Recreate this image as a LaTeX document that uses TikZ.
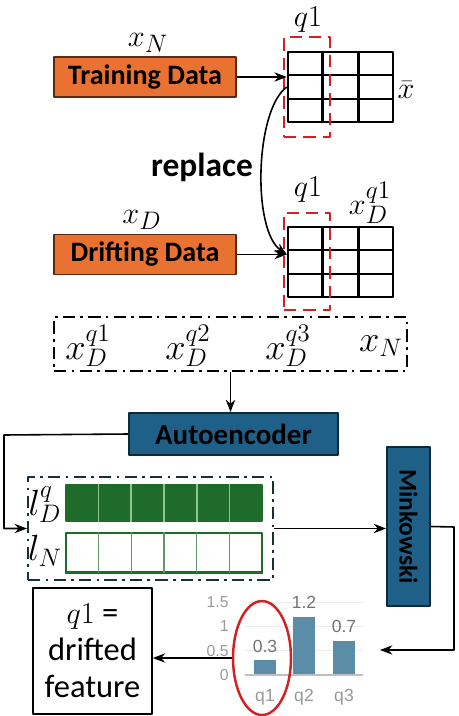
\documentclass[tikz,border=0pt]{standalone}
\usepackage{fontspec}
\setmainfont{Carlito}
\newfontfamily\chartfont{Liberation Sans}
\usepackage{tikz}
\usetikzlibrary{arrows.meta}
\usetikzlibrary{calc}
\usetikzlibrary{shapes.geometric}
\usetikzlibrary{positioning}
\definecolor{dataorange}{HTML}{E97132}
\definecolor{databorder}{HTML}{5A2A10}
\definecolor{blockblue}{HTML}{1E6088}
\definecolor{blockborder}{HTML}{0E2A3A}
\definecolor{latgreen}{HTML}{1E6B2A}
\definecolor{latline}{HTML}{8BC88F}
\definecolor{barblue}{HTML}{5B8DA8}
\definecolor{selred}{HTML}{D42020}
\definecolor{groupdark}{HTML}{17303A}

\begin{document}
\begin{tikzpicture}[
			% one unit = one pixel of the reference
			x=0.02cm, y=-0.02cm,
			line join=round, >=Stealth,
			databox/.style={draw=databorder, fill=dataorange, line width=0.8pt,
					minimum width=3.64cm, minimum height=0.8cm, inner sep=0pt,
					font=\fontsize{16}{19}\selectfont\bfseries},
			blockbox/.style={draw=blockborder, fill=blockblue, line width=1pt, inner sep=0pt,
					font=\fontsize{16.5}{19}\selectfont\bfseries},
			datagrid/.style={draw, line width=1.4pt, minimum width=2.1cm, minimum height=1.4cm, inner sep=0pt},
			qsel/.style={draw=selred, dashed, dash pattern=on 7pt off 4pt, line width=1.4pt,
					minimum width=0.92cm, inner sep=0pt},
			groupbox/.style={draw, line width=1.2pt, dash pattern=on 7pt off 3pt on 1.5pt off 3pt, inner sep=0pt},
			mlabel/.style={inner sep=0pt, font=\fontsize{19}{22}\selectfont},
			chartlabel/.style={inner sep=0pt, text=gray!80, font=\chartfont\fontsize{9}{11}\selectfont},
			conn/.style={->, line width=0.9pt}
		]

		\useasboundingbox (0,0) rectangle (458,716);

		%-------------------
		% Input data
		%-------------------
		\node[databox] (td) at (145,77) {Training Data};
		\node[databox] (dd) at (145,254.5) {Drifting Data};
		\node[mlabel] (xn) at (148,43) {$x_N$};
		\node[mlabel] (xd) at (142,220) {$x_D$};

		%-------------------
		% Data grids
		%-------------------
		\node[datagrid] (g1) at (340.5,87) {};
		\node[datagrid] (g2) at (340.5,262) {};
		\foreach \g in {g1,g2} {
				\foreach \i in {1,2} {
						\draw[line width=1.4pt] ($(\g.north west)!\i/3!(\g.north east)$) -- ($(\g.south west)!\i/3!(\g.south east)$);
						\draw[line width=1.4pt] ($(\g.north west)!\i/3!(\g.south west)$) -- ($(\g.north east)!\i/3!(\g.south east)$);
					}
			}
		\node[qsel, minimum height=2cm] (s1) at (307,87) {};
		\node[qsel, minimum height=1.94cm] (s2) at (307,261.5) {};
		\node[mlabel] (q1a) at (308,20) {$q1$};
		\node[mlabel] (q1b) at (308,190) {$q1$};
		\node[mlabel] (xbar) at (406,90) {$\bar{x}$};
		\node[mlabel] (xdq) at (370,203) {$x_D^{q1}$};

		\draw[conn] (td.east) -- (td.east -| g1.west);
		\draw[conn] (dd.east) -- (dd.east -| g2.west);
		\draw[conn] (g1.west) .. controls (255,110) and (252,230) .. (dd.east -| g2.west);
		\node[inner sep=0pt, font=\fontsize{19}{22}\selectfont\bfseries] (rep) at (202,167) {replace};

		%-------------------
		% Combined input
		%-------------------
		\node[groupbox, minimum width=7.06cm, minimum height=1.08cm] (grp) at (230.5,344) {};
		\foreach \n/\x/\t in {c1/88/{x_D^{q1}}, c2/188/{x_D^{q2}}, c3/288/{x_D^{q3}}, c4/381/{x_N}} {
				\node[mlabel, font=\fontsize{20.5}{23}\selectfont] (\n) at (\x,346) {$\t$};
			}

		%-------------------
		% Autoencoder and latent space
		%-------------------
		\node[blockbox, minimum width=4.18cm, minimum height=0.84cm] (ae) at (233.5,434) {Autoencoder};
		\draw[conn] (grp.south) -- (grp.south |- ae.north);

		\node[groupbox, draw=groupdark, minimum width=4.9cm, minimum height=2.06cm] (lat) at (150.5,528.5) {};
		\coordinate (bend) at (4,435);
		\draw[conn] (ae.west) -- (bend) |- (lat.west);

		\node[draw=latgreen, fill=latgreen, line width=0.6pt, minimum width=3.92cm, minimum height=0.72cm, inner sep=0pt] (ld) at (164,503) {};
		\node[draw=latgreen, line width=0.6pt, minimum width=3.92cm, minimum height=0.78cm, inner sep=0pt] (ln) at (164,552.5) {};
		\draw[latgreen, line width=1.6pt] (ln.south west) -- (ln.south east);
		\foreach \i in {1,...,5} {
				\draw[latline, line width=0.8pt] ($(ld.north west)!\i/6!(ld.north east)$) -- ($(ld.south west)!\i/6!(ld.south east)$);
				\draw[latgreen!70, line width=0.6pt] ($(ln.north west)!\i/6!(ln.north east)$) -- ($(ln.south west)!\i/6!(ln.south east)$);
			}
		\node[mlabel, font=\fontsize{22}{25}\selectfont] (ldq) at (45,505) {$l_D^q$};
		\node[mlabel, font=\fontsize{22}{25}\selectfont] (lnl) at (45,551) {$l_N$};

		%-------------------
		% Minkowski distance
		%-------------------
		\node[blockbox, minimum width=0.86cm, minimum height=3.18cm] (mk) at (408.5,526.5) {};
		\node[rotate=-90, inner sep=0pt, font=\fontsize{14.5}{17}\selectfont\bfseries] (mkt) at (408.5,526.5) {Minkowski};
		\draw[conn] (lat.east) -- (lat.east -| mk.west);
		\coordinate (chartin) at (380,650);
		\draw[conn] (mk.east) -- (454,527) |- (chartin);

		%-------------------
		% Distance chart
		%-------------------
		\def\base{675}
		\def\unit{48.7}
		\foreach \v/\t in {0.5/0.5, 1/1, 1.5/1.5} {
				\draw[gray!15, line width=0.5pt] (245,\base-\v*\unit) -- (363,\base-\v*\unit);
			}
		\foreach \v/\t in {0/0, 0.5/0.5, 1/1, 1.5/1.5} {
				\node[chartlabel, anchor=east] at (229,\base-\v*\unit) {\t};
			}
		\foreach \n/\x/\v in {q1/265/0.3, q2/304/1.2, q3/344/0.7} {
				\fill[barblue] (\x-11,\base) rectangle (\x+11,\base-\v*\unit);
				\node[chartlabel, text=gray!90!black, font=\chartfont\fontsize{10}{12}\selectfont] at (\x,\base-\v*\unit-14) {\v};
				\node[chartlabel, font=\chartfont\fontsize{10}{12}\selectfont] at (\x,697) {\n};
			}
		\draw[gray!50, line width=1pt] (245,\base) -- (363,\base);
		\node[draw=selred, line width=1.4pt, ellipse, minimum width=1.16cm, minimum height=2.28cm, inner sep=0pt] (sel) at (262,658) {};

		%-------------------
		% Result
		%-------------------
		\node[draw, line width=0.9pt, minimum width=2.38cm, minimum height=2.52cm, inner sep=0pt, align=center,
			font=\fontsize{18.5}{21}\selectfont] (res) at (92.5,651) {$q1$ =\\drifted\\feature};
		\draw[conn] (sel.west) -- (sel.west -| res.east);

	\end{tikzpicture}
\end{document}
